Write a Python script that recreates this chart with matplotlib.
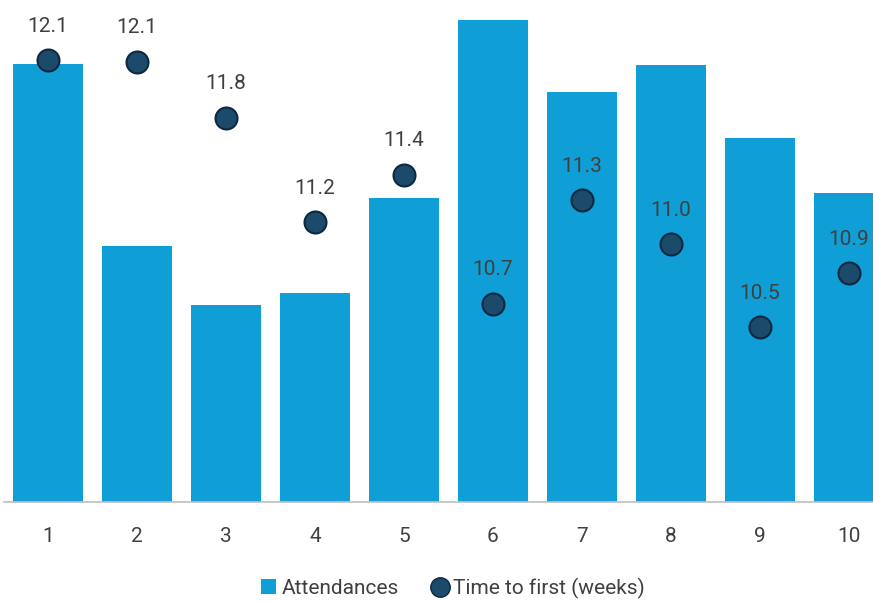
import matplotlib
matplotlib.use("Agg")
import matplotlib.pyplot as plt
from matplotlib.lines import Line2D
from matplotlib.patches import Patch

categories = ["1", "2", "3", "4", "5", "6", "7", "8", "9", "10"]
attendances = [4380, 2560, 1970, 2090, 3040, 4820, 4100, 4370, 3640, 3090]
time_to_first = [12.12, 12.11, 11.78, 11.16, 11.44, 10.68, 11.29, 11.03, 10.54, 10.86]

bar_color = "#0F9ED5"
marker_face = "#1B4A6B"
marker_edge = "#0E2841"
text_color = "#404040"

plt.rcParams["font.family"] = ["Roboto", "DejaVu Sans"]

fig = plt.figure(figsize=(8.73, 6.01), dpi=100)
W, H = 873, 601
ax = fig.add_axes([3.5 / W, 99 / H, 890 / W, 502 / H])

x = list(range(len(categories)))
ax.bar(x, attendances, width=0.79, color=bar_color, zorder=2)
ax.set_xlim(-0.5, len(categories) - 0.5)
ax.set_ylim(0, 5020)
ax.set_yticks([])
ax.set_xticks(x)
ax.set_xticklabels(categories, fontsize=15, color=text_color)
ax.tick_params(axis="x", length=0, pad=18)
for s in ["top", "left", "right"]:
    ax.spines[s].set_visible(False)
ax.spines["bottom"].set_color("#BFBFBF")
ax.spines["bottom"].set_linewidth(1.2)
ax.spines["bottom"].set_zorder(3)

ax2 = ax.twinx()
ax2.set_ylim(9.506, 12.476)
ax2.scatter(x, time_to_first, s=250, color=marker_face, edgecolor=marker_edge,
            linewidth=1.5, zorder=4)
for xi, v in zip(x, time_to_first):
    ax2.annotate(f"{v:.1f}", (xi, v), xytext=(0, 26), textcoords="offset points",
                 ha="center", va="center_baseline", fontsize=15, color=text_color)
ax2.set_yticks([])
for s in ax2.spines.values():
    s.set_visible(False)

handles = [
    Patch(facecolor=bar_color, edgecolor="none", label="Attendances"),
    Line2D([], [], marker="o", linestyle="none", markersize=14,
           markerfacecolor=marker_face, markeredgecolor=marker_edge,
           label="Time to first (weeks)"),
]
fig.legend(handles=handles, loc="center", bbox_to_anchor=(453 / W, 1 - 588 / H),
           ncol=2, frameon=False, fontsize=15, handlelength=0.7, handleheight=0.7,
           handletextpad=0.3, columnspacing=1.6, labelcolor=text_color)

fig.savefig("out.png", dpi=100)
